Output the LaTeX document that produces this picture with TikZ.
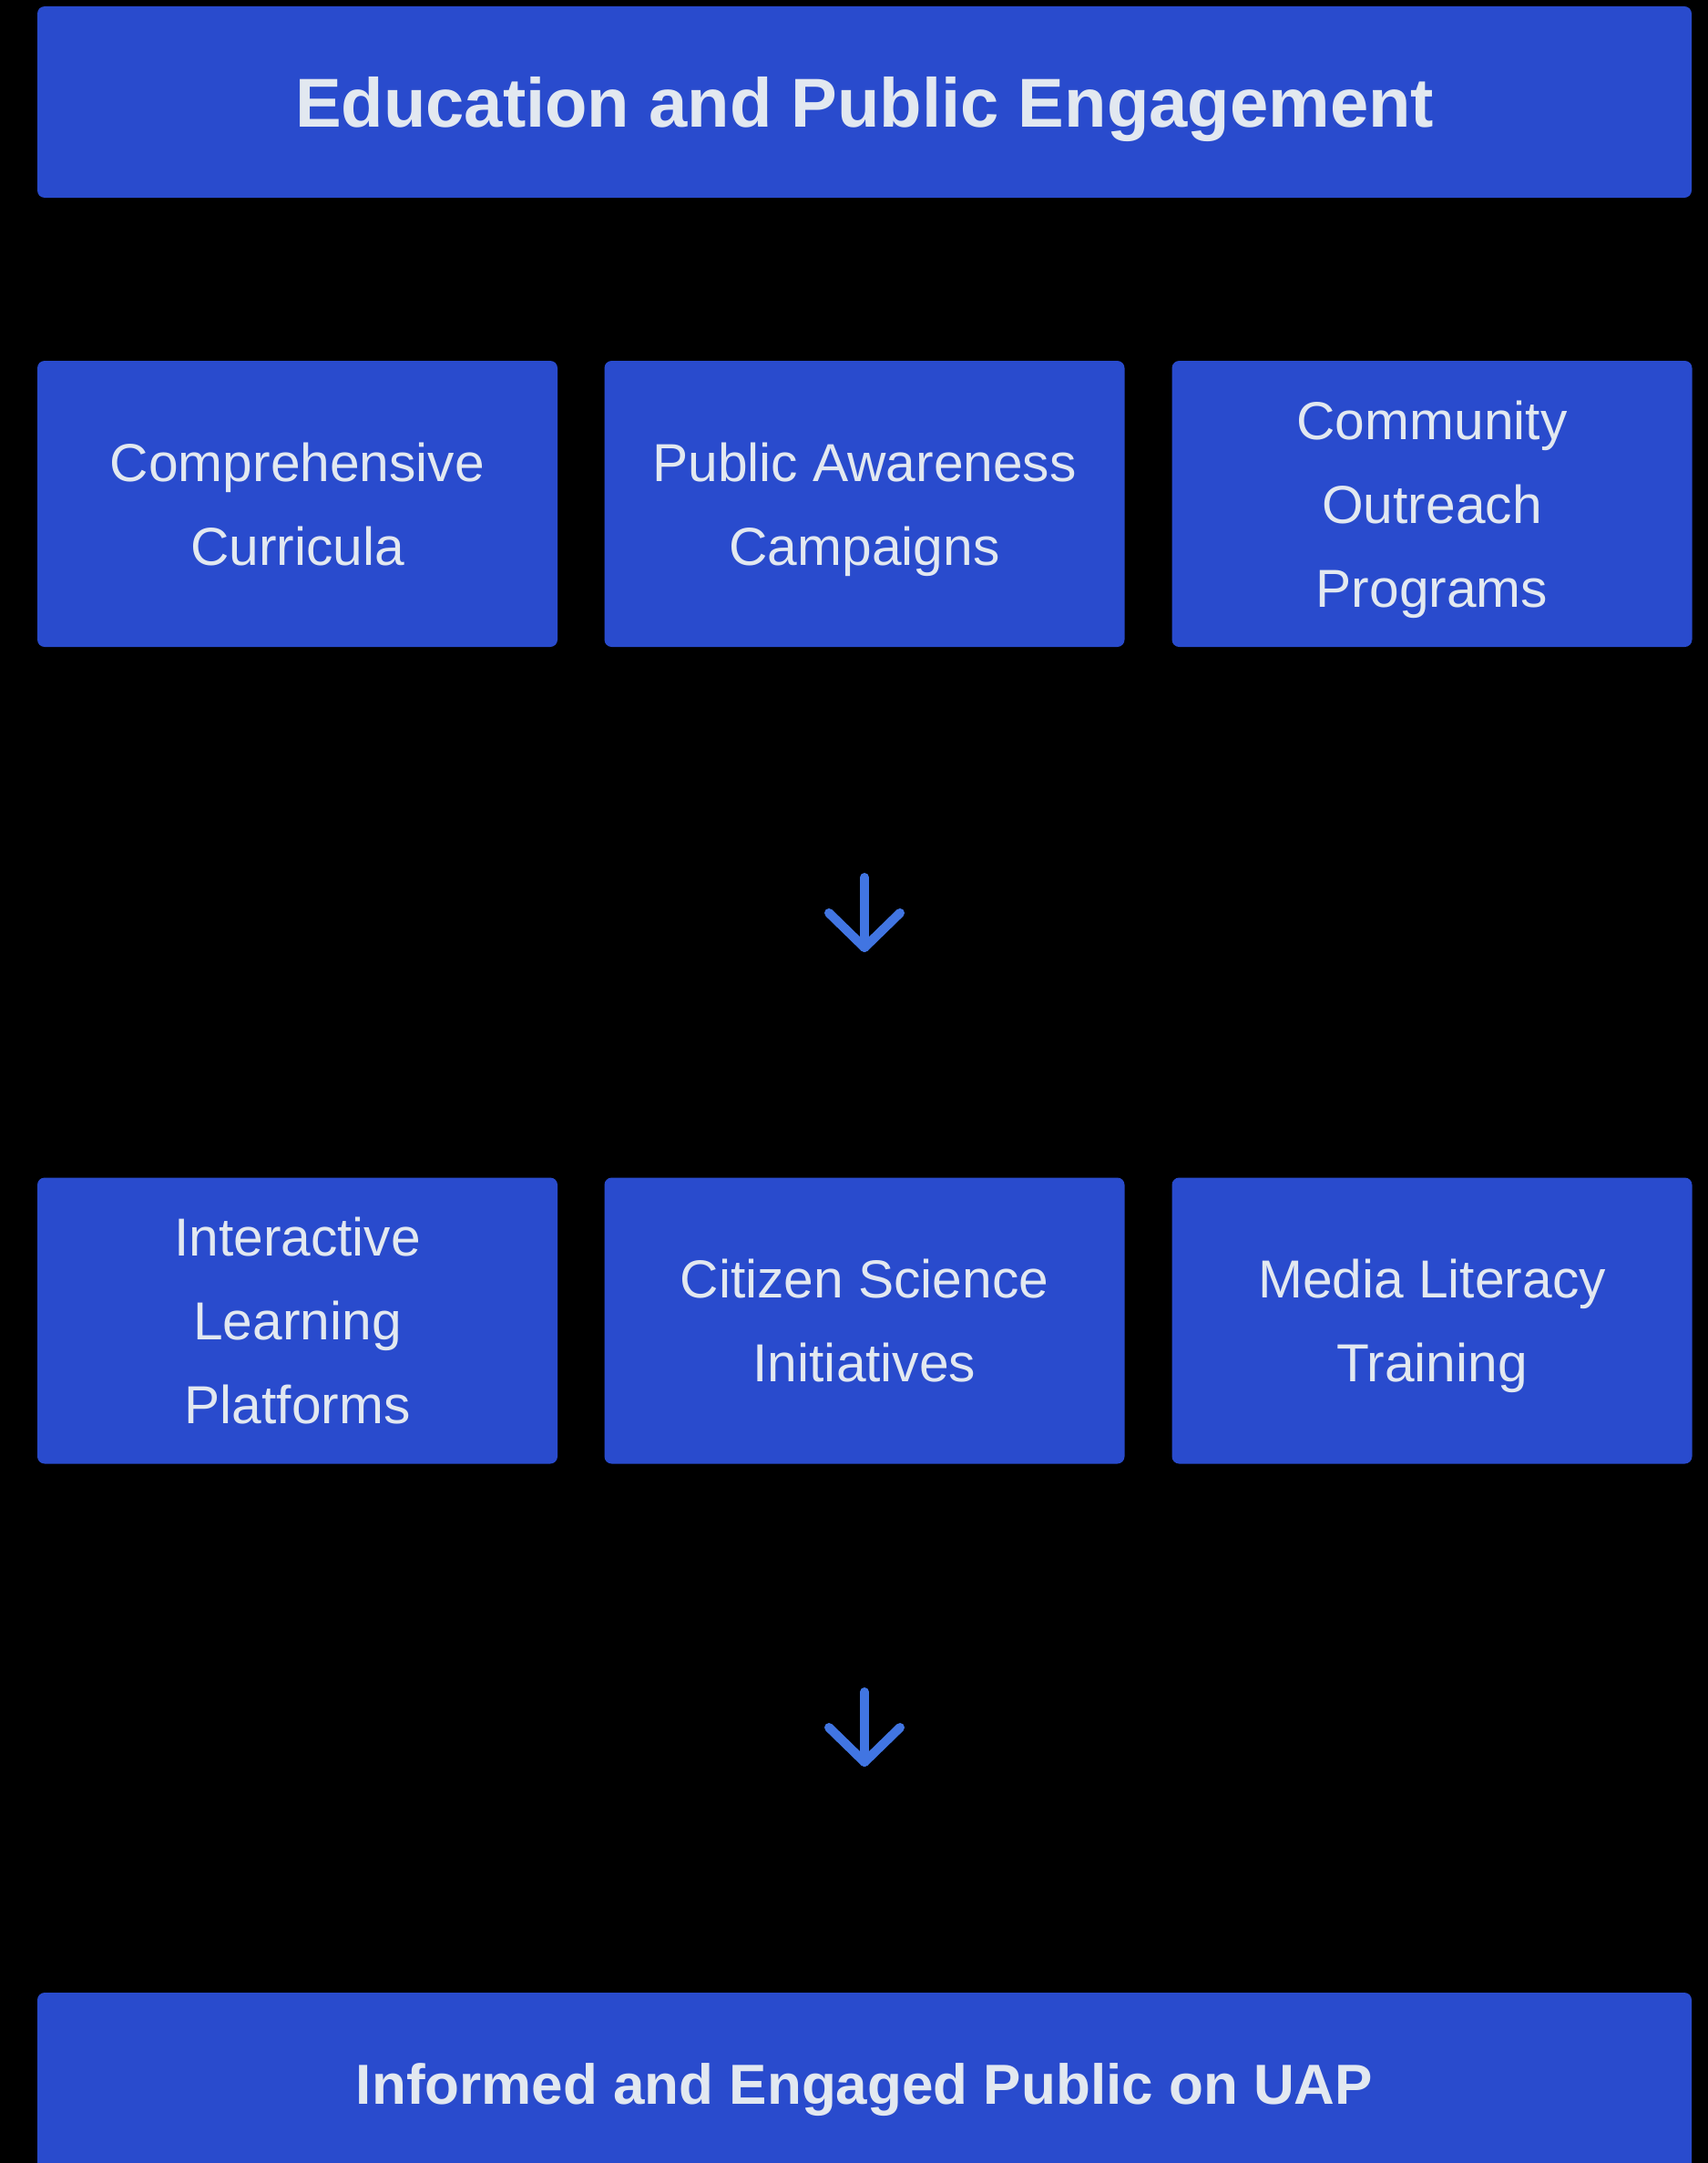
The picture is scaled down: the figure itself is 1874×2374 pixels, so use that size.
\documentclass[tikz,border=0pt]{standalone}
\usepackage{fontspec}
\setmainfont{Liberation Sans}
\definecolor{boxblue}{HTML}{294BCD}
\definecolor{txtgray}{HTML}{E2E8F0}
\definecolor{arrowblue}{HTML}{4175E2}
\newcommand\ls{\rule[-25pt]{0pt}{92pt}}
\tikzset{
  titlebox/.style={fill=boxblue, rounded corners=8pt, minimum width=1816pt, inner sep=0pt, text=txtgray},
  toptitle/.style={titlebox, minimum height=210pt, font=\fontsize{76}{92}\selectfont\bfseries, text height=54.4pt, text depth=-4pt},
  bottitle/.style={titlebox, minimum height=200pt, font=\fontsize{62}{80}\selectfont\bfseries, text height=44.4pt, text depth=0pt},
  itembox/.style={fill=boxblue, rounded corners=8pt, minimum width=571pt, minimum height=314pt, inner sep=0pt, text=txtgray, align=center, font=\fontsize{58.7}{92}\selectfont},
  downarrow/.style={draw=arrowblue, line width=10pt, line cap=round, line join=round}
}
\begin{document}
\begin{tikzpicture}[x=1pt,y=-1pt]
\useasboundingbox (0,0) rectangle (1874,2374);
\fill[black] (-20,-20) rectangle (1894,2394);
\node[toptitle] (top) at (949,112) {Education and Public Engagement};
\node[itembox] (c1) at (326.5,553) {\ls Comprehensive\\\ls Curricula};
\node[itembox] (c2) at (949,553) {\ls Public Awareness\\\ls Campaigns};
\node[itembox] (c3) at (1572,553) {\ls Community\\\ls Outreach\\\ls Programs};
\node[itembox] (d1) at (326.5,1449.5) {\ls Interactive\\\ls Learning\\\ls Platforms};
\node[itembox] (d2) at (949,1449.5) {\ls Citizen Science\\\ls Initiatives};
\node[itembox] (d3) at (1572,1449.5) {\ls Media Literacy\\\ls Training};
\node[bottitle] (bot) at (949,2287) {Informed and Engaged Public on UAP};
% arrows
\coordinate (a1s) at (949,963);
\coordinate (a1t) at (949,1040);
\coordinate (a1l) at (910,1002);
\coordinate (a1r) at (988,1002);
\draw[downarrow] (a1s) -- (a1t);
\draw[downarrow] (a1l) -- (a1t) -- (a1r);
\coordinate (a2s) at (949,1857);
\coordinate (a2t) at (949,1934);
\coordinate (a2l) at (910,1896);
\coordinate (a2r) at (988,1896);
\draw[downarrow] (a2s) -- (a2t);
\draw[downarrow] (a2l) -- (a2t) -- (a2r);
\end{tikzpicture}
\end{document}
